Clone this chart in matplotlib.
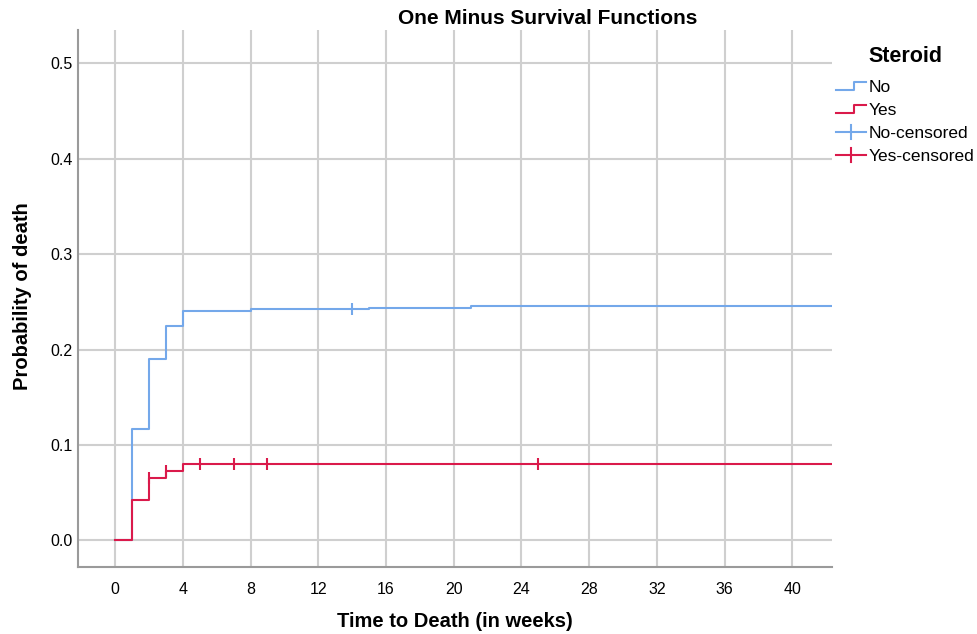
import matplotlib
matplotlib.use("Agg")
import matplotlib.pyplot as plt
from matplotlib.lines import Line2D
from matplotlib.legend_handler import HandlerBase

plt.rcParams['font.family'] = ['Liberation Sans', 'DejaVu Sans']

# ---- data ----
no_times = [0, 1, 2, 3, 4, 8, 15, 21, 43]
no_prob = [0.0, 0.117, 0.190, 0.225, 0.240, 0.242, 0.244, 0.246, 0.246]
no_cens_times = [14]
no_cens_prob = [0.242]

yes_times = [0, 1, 2, 3, 4, 43]
yes_prob = [0.0, 0.042, 0.065, 0.073, 0.080, 0.080]
yes_cens_times = [2, 3, 5, 7, 9, 25]
yes_cens_prob = [0.065, 0.073, 0.080, 0.080, 0.080, 0.080]

x_ticks = [0, 4, 8, 12, 16, 20, 24, 28, 32, 36, 40]
y_ticks = [0.0, 0.1, 0.2, 0.3, 0.4, 0.5]
legend_labels = ["No", "Yes", "No-censored", "Yes-censored"]

blue = '#74A8EA'
red = '#DA1A4B'

fig = plt.figure(figsize=(9.78, 6.34), dpi=100)
ax = fig.add_axes([78/978, 1-567/634, (832-78)/978, (567-30)/634])

ax.plot(no_times, no_prob, drawstyle='steps-post', color=blue, lw=1.5, zorder=3)
ax.plot(yes_times, yes_prob, drawstyle='steps-post', color=red, lw=1.5, zorder=4)
ax.plot(no_cens_times, no_cens_prob, ls='none', marker='|', ms=9, mew=1.5, color=blue, zorder=5)
ax.plot(yes_cens_times, yes_cens_prob, ls='none', marker='|', ms=9, mew=1.5, color=red, zorder=5)

ax.set_xlim(-2.19, 42.35)
ax.set_ylim(-0.028, 0.535)
ax.set_xticks(x_ticks)
ax.set_yticks(y_ticks)
ax.set_yticklabels([f"{v:.1f}" for v in y_ticks])
ax.grid(True, color='#CFCFCF', lw=1.5, zorder=0)
ax.set_axisbelow(True)
ax.tick_params(length=0, labelsize=11.5)
ax.tick_params(axis='y', pad=4)
ax.tick_params(axis='x', pad=11)
for s in ['top', 'right']:
    ax.spines[s].set_visible(False)
for s in ['left', 'bottom']:
    ax.spines[s].set_color('#9A9A9A')
    ax.spines[s].set_linewidth(1.5)

ax.set_xlabel("Time to Death (in weeks)", fontsize=14.5, fontweight='bold')
ax.set_ylabel("Probability of death", fontsize=14.5, fontweight='bold')
ax.xaxis.set_label_coords(0.5, (567-612)/537)
ax.yaxis.set_label_coords((32-78)/754, 0.505)
fig.text(548/978, 1-18/634, "One Minus Survival Functions", fontsize=15,
         fontweight='bold', ha='center', va='center')


class StepHandler(HandlerBase):
    def create_artists(self, legend, orig_handle, xdescent, ydescent, width, height, fontsize, trans):
        x0 = -xdescent
        y0 = -ydescent
        xs = [x0, x0 + width * 0.6, x0 + width * 0.6, x0 + width]
        ys = [y0 + height * 0.15, y0 + height * 0.15, y0 + height * 0.85, y0 + height * 0.85]
        ln = Line2D(xs, ys, color=orig_handle.get_color(), lw=1.5)
        ln.set_transform(trans)
        return [ln]


class CensHandler(HandlerBase):
    def create_artists(self, legend, orig_handle, xdescent, ydescent, width, height, fontsize, trans):
        x0 = -xdescent
        y0 = -ydescent
        ln = Line2D([x0, x0 + width], [y0 + height / 2] * 2, color=orig_handle.get_color(), lw=1.5)
        vt = Line2D([x0 + width / 2] * 2, [y0 - height * 0.1, y0 + height * 1.1],
                    color=orig_handle.get_color(), lw=1.5)
        ln.set_transform(trans)
        vt.set_transform(trans)
        return [ln, vt]


h_no = Line2D([], [], color=blue)
h_yes = Line2D([], [], color=red)
h_noc = Line2D([], [], color=blue, marker='|')
h_yesc = Line2D([], [], color=red, marker='|')

fig.legend([h_no, h_yes, h_noc, h_yesc], legend_labels,
           handler_map={h_no: StepHandler(), h_yes: StepHandler(),
                        h_noc: CensHandler(), h_yesc: CensHandler()},
           loc='upper left', bbox_to_anchor=(836/978, 1-80/634),
           frameon=False, fontsize=12.5, handlelength=1.75, handletextpad=0.15,
           labelspacing=0.45, borderpad=0, borderaxespad=0)
fig.text(868/978, 1-56/634, "Steroid", fontsize=15.5, fontweight='bold',
         ha='left', va='center')

fig.savefig("out.png", dpi=100)
